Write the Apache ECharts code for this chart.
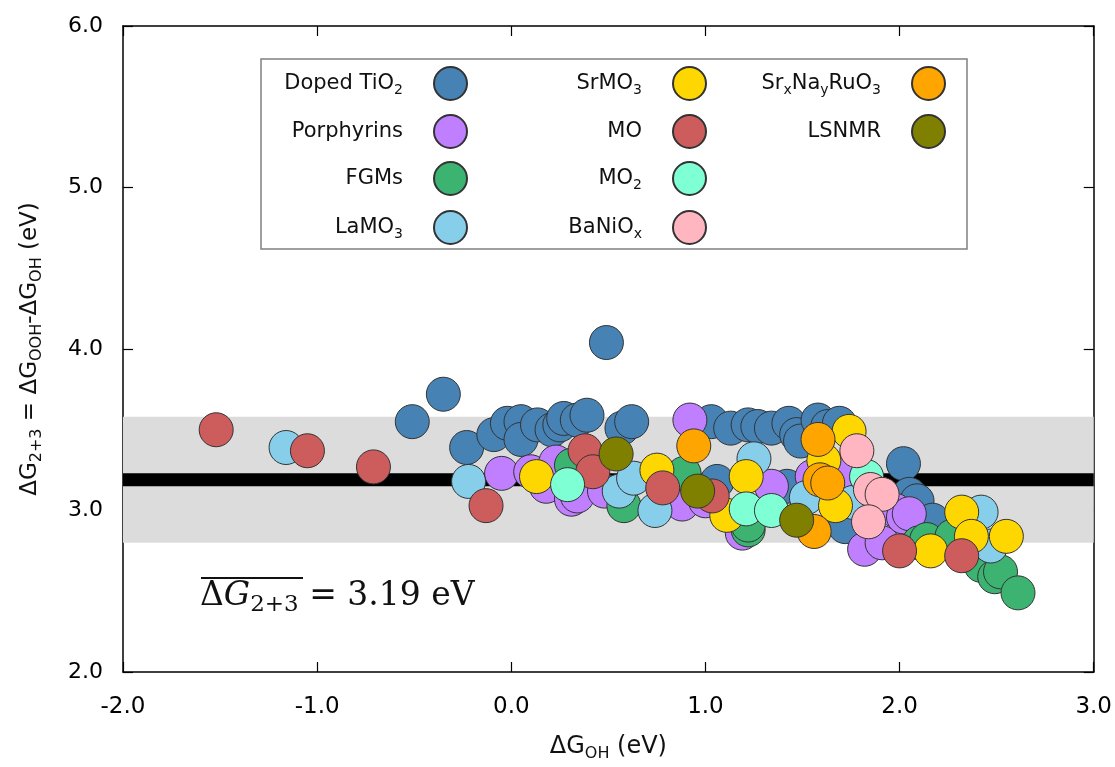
<!DOCTYPE html>
<html>
<head>
<meta charset="utf-8">
<script src="https://cdn.jsdelivr.net/npm/echarts@6/dist/echarts.min.js"></script>
<style>
  html, body { margin: 0; padding: 0; background: #fff; }
  #chart { width: 1115px; height: 767px; }
</style>
</head>
<body>
<div id="chart"></div>
<script>
// [ΔG_OH, ΔG_2+3] pairs in eV
const dopedTiO2 = [
  [-0.51, 3.55], [-0.35, 3.72], [-0.23, 3.39], [-0.09, 3.47], [-0.02, 3.54], [0.05, 3.55],
  [0.05, 3.44], [0.135, 3.53], [0.21, 3.50], [0.25, 3.53], [0.27, 3.57], [0.34, 3.56],
  [0.39, 3.59], [0.49, 4.04], [0.57, 3.51], [0.62, 3.55], [1.03, 3.55], [1.13, 3.51],
  [1.22, 3.53], [1.27, 3.52], [1.34, 3.51], [1.43, 3.54], [1.47, 3.47], [1.49, 3.43],
  [1.58, 3.56], [1.63, 3.52], [1.69, 3.54], [1.06, 3.18], [1.42, 3.15], [1.72, 2.90],
  [2.02, 3.29], [2.05, 3.10], [2.09, 3.06], [2.17, 2.94]
];
const porphyrins = [
  [-0.05, 3.23], [0.10, 3.24], [0.18, 3.15], [0.23, 3.30], [0.31, 3.07], [0.34, 3.09],
  [0.48, 3.12], [0.88, 3.04], [0.92, 3.56], [1.00, 3.06], [1.19, 2.86], [1.34, 3.15],
  [1.55, 3.21], [1.72, 3.24], [1.82, 2.76], [1.91, 2.80], [1.98, 3.00], [2.02, 2.96],
  [2.05, 2.98]
];
const fgms = [
  [0.31, 3.28], [0.58, 3.03], [0.89, 3.23], [1.22, 2.88], [1.22, 2.91], [2.10, 2.80],
  [2.14, 2.82], [2.27, 2.84], [2.42, 2.66], [2.49, 2.59], [2.52, 2.62], [2.61, 2.49]
];
const laMO3 = [
  [-1.16, 3.39], [-0.22, 3.18], [0.556, 3.12], [0.63, 3.20], [0.74, 3.00], [1.25, 3.32],
  [1.52, 3.08], [1.76, 3.05], [2.42, 2.99], [2.47, 2.78]
];
const srMO3 = [
  [0.13, 3.21], [0.75, 3.25], [1.11, 2.97], [1.21, 3.21], [1.61, 3.31], [1.67, 3.03],
  [1.74, 3.49], [2.16, 2.75], [2.32, 2.99], [2.37, 2.84], [2.55, 2.84]
];
const mo = [
  [-1.52, 3.50], [-1.05, 3.37], [-0.71, 3.27], [-0.13, 3.03], [0.38, 3.37], [0.42, 3.24],
  [0.78, 3.14], [1.035, 3.09], [2.00, 2.75], [2.32, 2.72]
];
const mo2 = [[0.29, 3.16], [1.21, 3.01], [1.34, 3.00], [1.83, 3.21]];
const baNiOx = [[1.78, 3.37], [1.85, 3.13], [1.91, 3.10], [1.84, 2.93]];
const srNaRuO3 = [[0.94, 3.40], [1.58, 3.44], [1.59, 3.19], [1.63, 3.17], [1.56, 2.87]];
const lsnmr = [[0.54, 3.35], [0.96, 3.12], [1.47, 2.94]];

const meanG23 = 3.19;
const bandLow = 2.80;
const bandHigh = 3.58;
const xMin = -2, xMax = 3;
const yMin = 2, yMax = 6;

const groups = [
  { name: 'Doped TiO2', data: dopedTiO2, color: '#4682b4', label: 'Doped TiO{s|2}' },
  { name: 'Porphyrins', data: porphyrins, color: '#bf7fff', label: 'Porphyrins' },
  { name: 'FGMs', data: fgms, color: '#3cb371', label: 'FGMs' },
  { name: 'LaMO3', data: laMO3, color: '#87ceeb', label: 'LaMO{s|3}' },
  { name: 'SrMO3', data: srMO3, color: '#ffd700', label: 'SrMO{s|3}' },
  { name: 'MO', data: mo, color: '#cd5c5c', label: 'MO' },
  { name: 'MO2', data: mo2, color: '#7fffd4', label: 'MO{s|2}' },
  { name: 'BaNiOx', data: baNiOx, color: '#ffb6c1', label: 'BaNiO{s|x}' },
  { name: 'SrxNayRuO3', data: srNaRuO3, color: '#ffa500', label: 'Sr{s|x}Na{s|y}RuO{s|3}' },
  { name: 'LSNMR', data: lsnmr, color: '#808000', label: 'LSNMR' }
];

// legend is laid out as 3 columns x 4 rows, text right aligned, dot on the right
const colRight = [647, 408, 169];
const rowTop = [66, 114, 161, 210];
const subStyle = { fontFamily: 'DejaVu Sans', fontSize: 14, color: '#111', padding: [14, 0, 0, 0] };

const legends = groups.map((g, i) => ({
  data: [g.name],
  right: colRight[Math.floor(i / 4)],
  top: rowTop[i % 4],
  align: 'right',
  padding: 0,
  itemWidth: 33,
  itemHeight: 33,
  icon: 'circle',
  selectedMode: false,
  formatter: () => g.label,
  textStyle: {
    fontFamily: 'DejaVu Sans', fontSize: 21, color: '#111',
    padding: [0, 26, 0, 0],
    rich: { s: subStyle }
  }
}));

const chart = echarts.init(document.getElementById('chart'), null, { renderer: 'canvas' });

const axisCommon = {
  type: 'value',
  interval: 1,
  axisLine: { onZero: false, lineStyle: { color: '#000', width: 1.5 } },
  axisTick: { inside: true, length: 10, lineStyle: { color: '#000', width: 1.2 } },
  splitLine: { show: false }
};

chart.setOption({
  animation: false,
  backgroundColor: '#fff',
  grid: { left: 123, right: 20, top: 26, bottom: 86 },
  legend: legends,
  xAxis: [
    {
      ...axisCommon, min: xMin, max: xMax,
      axisLabel: { margin: 24, fontFamily: 'DejaVu Sans', fontSize: 23, color: '#000', formatter: v => v.toFixed(1) },
      name: 'ΔG{s|OH} (eV)',
      nameLocation: 'middle',
      nameGap: 60,
      nameTextStyle: {
        fontFamily: 'DejaVu Sans', fontSize: 24, color: '#111',
        rich: { s: { fontFamily: 'DejaVu Sans', fontSize: 16, color: '#111', padding: [14, 0, 0, 0] } }
      }
    },
    { ...axisCommon, min: xMin, max: xMax, position: 'top', axisLabel: { show: false } }
  ],
  yAxis: [
    {
      ...axisCommon, min: yMin, max: yMax,
      axisLabel: { margin: 20, fontFamily: 'DejaVu Sans', fontSize: 22, color: '#000', formatter: v => v.toFixed(1) },
      name: 'ΔG{s|2+3} = ΔG{s|OOH}-ΔG{s|OH} (eV)',
      nameLocation: 'middle',
      nameRotate: 90,
      nameGap: 78,
      nameTextStyle: {
        fontFamily: 'DejaVu Sans', fontSize: 23, color: '#111',
        rich: { s: { fontFamily: 'DejaVu Sans', fontSize: 16, color: '#111', padding: [14, 0, 0, 0] } }
      }
    },
    { ...axisCommon, min: yMin, max: yMax, position: 'right', axisLabel: { show: false } }
  ],
  graphic: [
    {
      type: 'rect', z: 0,
      shape: { x: 261, y: 59, width: 706, height: 190 },
      style: { fill: '#fff', stroke: '#808080', lineWidth: 1.5 }
    },
    {
      type: 'text', z: 100, left: 200, top: 580,
      style: {
        text: 'Δ{g|G}{s|2+3} = 3.19 eV',
        fontFamily: 'DejaVu Serif', fontSize: 33, fill: '#111',
        rich: {
          g: { fontFamily: 'DejaVu Serif', fontStyle: 'italic', fontSize: 33, color: '#111' },
          s: { fontFamily: 'DejaVu Serif', fontSize: 23, color: '#111', padding: [18, 0, 0, 0] }
        }
      }
    },
    {
      type: 'line', z: 100,
      shape: { x1: 201, y1: 578, x2: 303, y2: 578 },
      style: { stroke: '#111', lineWidth: 2 }
    }
  ],
  series: [
    {
      type: 'line', name: 'band', z: 1, silent: true, symbol: 'none',
      data: [],
      markArea: {
        silent: true,
        itemStyle: { color: '#dcdcdc' },
        data: [[{ yAxis: bandLow }, { yAxis: bandHigh }]]
      }
    },
    {
      type: 'line', name: 'mean', z: 2, silent: true, symbol: 'none',
      data: [[xMin, meanG23], [xMax, meanG23]],
      lineStyle: { color: '#000', width: 13 }
    },
    ...groups.map(g => ({
      name: g.name,
      type: 'scatter',
      z: 3,
      data: g.data,
      symbolSize: 34,
      itemStyle: { color: g.color, borderColor: '#333', borderWidth: 1, opacity: 1 },
      emphasis: { disabled: true }
    }))
  ]
});
</script>
</body>
</html>
